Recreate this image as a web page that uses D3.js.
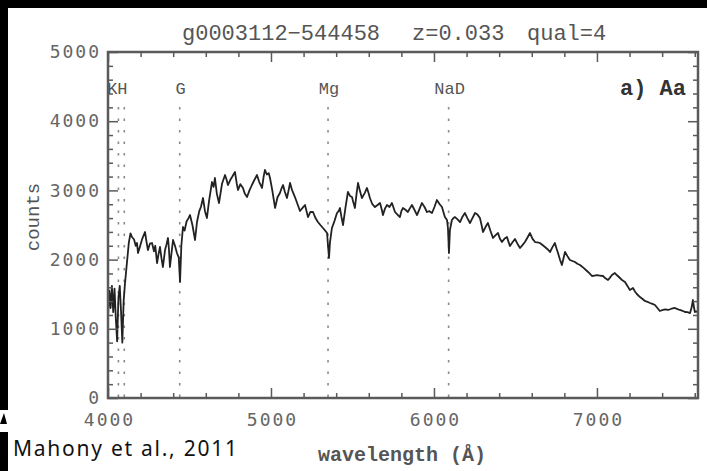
<!DOCTYPE html>
<html>
<head>
<meta charset="utf-8">
<script src="https://cdn.jsdelivr.net/npm/d3@7"></script>
<style>
  html, body { margin: 0; padding: 0; background: #fff; }
  svg { display: block; }
</style>
</head>
<body>
<svg id="chart" width="707" height="471"></svg>
<script>
// Spectrum of g0003112-544458 (z = 0.033): wavelength in Angstrom and counts
const wavelength = [
  4000,4008,4016,4024,4032,4040,4048,4056,4064,4072,4080,4088,4096,4104,4112,4120,4128,4138,
  4147,4160,4170,4178,4184,4195,4210,4227,4236,4245,4257,4270,4282,4290,4301,4310,4319,4328,
  4337,4350,4359,4368,4374,4380,4390,4399,4411,4423,4434,4442,4450,4460,4470,4482,4494,4503,
  4518,4534,4546,4560,4570,4583,4595,4607,4620,4638,4648,4656,4668,4681,4700,4718,4728,4736,
  4750,4763,4779,4790,4798,4812,4828,4840,4853,4868,4883,4898,4914,4928,4945,4955,4963,4975,
  4986,4994,5008,5025,5040,5055,5065,5074,5085,5098,5108,5117,5130,5147,5163,5178,5195,5209,
  5218,5227,5242,5258,5273,5288,5303,5319,5332,5344,5350,5356,5362,5374,5390,5405,5415,5423,
  5432,5442,5457,5472,5485,5497,5506,5515,5525,5534,5546,5558,5575,5589,5600,5607,5622,5638,
  5654,5669,5680,5687,5700,5712,5727,5742,5752,5761,5776,5791,5800,5810,5825,5840,5852,5865,
  5880,5896,5911,5926,5942,5957,5972,5988,6003,6018,6035,6049,6067,6080,6086,6092,6098,6110,
  6120,6129,6145,6160,6175,6190,6205,6221,6236,6252,6267,6282,6292,6301,6316,6331,6346,6362,
  6377,6393,6405,6417,6432,6448,6457,6466,6482,6497,6512,6528,6543,6558,6574,6589,6605,6620,
  6635,6650,6666,6681,6697,6712,6727,6742,6752,6761,6773,6785,6795,6804,6819,6834,6850,6865,
  6880,6896,6918,6939,6955,6969,6985,7000,7018,7037,7052,7068,7080,7092,7110,7125,7141,7156,
  7172,7187,7202,7212,7221,7233,7245,7264,7280,7294,7310,7325,7340,7356,7371,7386,7405,7420,
  7436,7458,7479,7494,7509,7525,7540,7555,7571,7580,7589,7596,7601,7615
];
const counts = [
  1180,1550,1300,1620,1240,1580,1150,820,1450,1620,1250,800,1400,1650,1850,2050,2250,2380,
  2326,2290,2200,2240,2095,2180,2300,2399,2260,2139,2230,2240,2120,2200,1950,2080,2182,2020,
  1893,2139,2220,2312,2150,1893,2100,2283,2200,2095,2030,1676,2200,2471,2420,2550,2600,2644,
  2500,2283,2543,2700,2760,2890,2700,2601,2850,3121,3050,3179,2950,2818,3100,3222,3150,3078,
  3150,3200,3266,3100,3006,3090,3035,2950,2904,3000,3078,3150,3222,3120,3035,3200,3295,3230,
  3250,3179,3000,2746,2900,2962,3030,3078,2980,2890,3000,3107,3000,2904,2800,2702,2750,2789,
  2700,2615,2690,2688,2600,2543,2500,2457,2420,2384,2200,2023,2250,2457,2560,2673,2700,2746,
  2620,2500,2750,2977,2920,2904,2820,2746,2950,3107,2990,2890,2960,3035,2950,2890,2800,2760,
  2790,2818,2720,2644,2740,2789,2760,2818,2750,2688,2650,2615,2700,2746,2720,2688,2740,2789,
  2720,2644,2730,2818,2760,2688,2700,2673,2760,2861,2800,2760,2615,2572,2450,2095,2428,2572,
  2600,2615,2580,2543,2620,2673,2600,2529,2600,2673,2650,2601,2500,2399,2470,2529,2420,2312,
  2350,2384,2300,2254,2300,2326,2260,2196,2250,2298,2230,2168,2210,2254,2320,2384,2300,2254,
  2250,2240,2210,2182,2150,2110,2180,2240,2160,2095,2000,1922,2020,2110,2050,1994,1980,1965,
  1940,1922,1880,1835,1800,1763,1770,1777,1770,1763,1730,1705,1740,1777,1806,1770,1734,1700,
  1676,1620,1561,1575,1590,1540,1503,1459,1430,1402,1390,1373,1360,1344,1300,1257,1272,1280,
  1272,1290,1301,1285,1272,1260,1243,1240,1228,1300,1416,1300,1243,1250
];

// Absorption features marked on the spectrum (redshifted positions)
const lineNames = ["K", "H", "G", "Mg", "NaD"];
const lineWavelengths = [4064, 4100, 4440, 5350, 6090];

// Axis ticks
const xTickValues = [4000, 5000, 6000, 7000];
const yTickValues = [0, 1000, 2000, 3000, 4000, 5000];

const svg = d3.select("#chart");
const W = 707, H = 471;
const plotL = 108, plotR = 698, plotT = 52, plotB = 398;

const x = d3.scaleLinear().domain([4000, 7620]).range([plotL, plotR]);
const y = d3.scaleLinear().domain([0, 5000]).range([plotB, plotT]);

const axisColor = "#5a5a5a";
const labelFont = "'DejaVu Sans Mono', monospace";
const monoFont = "'Liberation Mono', 'Courier New', monospace";

// Frame clip
svg.append("defs").append("clipPath").attr("id", "plotArea")
  .append("rect").attr("x", plotL).attr("y", plotT)
  .attr("width", plotR - plotL).attr("height", plotB - plotT);

// Dotted marker lines
const markers = svg.append("g");
lineWavelengths.forEach((w) => {
  markers.append("line")
    .attr("x1", x(w)).attr("x2", x(w))
    .attr("y1", 107).attr("y2", plotB)
    .attr("stroke", "#8a8a8a").attr("stroke-width", 1.6)
    .attr("stroke-dasharray", "2.5 9");
});

// Marker labels (K and H share one label)
const markerLabels = [
  { text: lineNames[0] + lineNames[1], w: (lineWavelengths[0] + lineWavelengths[1]) / 2, dx: -4 },
  { text: lineNames[2], w: lineWavelengths[2], dx: 1 },
  { text: lineNames[3], w: lineWavelengths[3], dx: 1 },
  { text: lineNames[4], w: lineWavelengths[4], dx: 1 }
];
svg.append("g").selectAll("text").data(markerLabels).join("text")
  .attr("x", d => x(d.w) + d.dx)
  .attr("y", 94)
  .attr("text-anchor", "middle")
  .attr("font-family", monoFont)
  .attr("font-size", 17)
  .attr("fill", "#555")
  .text(d => d.text);

// Spectrum line
const pts = wavelength.map((w, i) => [w, counts[i]]);
svg.append("path")
  .datum(pts)
  .attr("clip-path", "url(#plotArea)")
  .attr("fill", "none")
  .attr("stroke", "#222")
  .attr("stroke-width", 1.8)
  .attr("stroke-linejoin", "round")
  .attr("d", d3.line().x(d => x(d[0])).y(d => y(d[1])));

// Ticks (inward, all four sides)
const xMinor = d3.range(4000, 7601, 200).filter(v => v % 1000 !== 0);
const yMinor = d3.range(0, 5001, 200).filter(v => v % 1000 !== 0);

function tickGroup(axis, tx, ty) {
  const g = svg.append("g").attr("transform", `translate(${tx},${ty})`).call(axis);
  g.select(".domain").remove();
  g.selectAll("line").attr("stroke", axisColor).attr("stroke-width", 1.5);
  return g;
}
tickGroup(d3.axisBottom(x).tickValues(xTickValues).tickSize(-10).tickFormat(""), 0, plotB);
tickGroup(d3.axisBottom(x).tickValues(xMinor).tickSize(-5).tickFormat(""), 0, plotB);
tickGroup(d3.axisTop(x).tickValues(xTickValues).tickSize(-10).tickFormat(""), 0, plotT);
tickGroup(d3.axisTop(x).tickValues(xMinor).tickSize(-5).tickFormat(""), 0, plotT);
tickGroup(d3.axisLeft(y).tickValues(yTickValues).tickSize(-10).tickFormat(""), plotL, 0);
tickGroup(d3.axisLeft(y).tickValues(yMinor).tickSize(-5).tickFormat(""), plotL, 0);
tickGroup(d3.axisRight(y).tickValues(yTickValues).tickSize(-10).tickFormat(""), plotR, 0);
tickGroup(d3.axisRight(y).tickValues(yMinor).tickSize(-5).tickFormat(""), plotR, 0);

// Frame
svg.append("rect")
  .attr("x", plotL).attr("y", plotT)
  .attr("width", plotR - plotL).attr("height", plotB - plotT)
  .attr("fill", "none").attr("stroke", axisColor).attr("stroke-width", 2.5);

// Tick labels
const xLab = svg.append("g").attr("transform", `translate(0,${plotB})`)
  .call(d3.axisBottom(x).tickValues(xTickValues).tickSize(0).tickPadding(15).tickFormat(d3.format("d")));
xLab.select(".domain").remove();
xLab.selectAll("text").attr("font-family", labelFont).attr("font-size", 18)
  .attr("letter-spacing", 2).attr("dx", 1).attr("fill", "#666");

const yLab = svg.append("g").attr("transform", `translate(${plotL},0)`)
  .call(d3.axisLeft(y).tickValues(yTickValues).tickSize(0).tickPadding(9).tickFormat(d3.format("d")));
yLab.select(".domain").remove();
yLab.selectAll("text").attr("font-family", labelFont).attr("font-size", 18)
  .attr("letter-spacing", 2).attr("dx", 2).attr("fill", "#666");

// Title pieces
const titleParts = [
  { text: "g0003112\u2212544458", x: 182 },
  { text: "z=0.033", x: 412 },
  { text: "qual=4", x: 527 }
];
svg.append("g").selectAll("text").data(titleParts).join("text")
  .attr("x", d => d.x).attr("y", 40)
  .attr("font-family", monoFont).attr("font-size", 22).attr("fill", "#555")
  .text(d => d.text);

// Panel tag
svg.append("text")
  .attr("x", 686).attr("y", 95).attr("text-anchor", "end")
  .attr("font-family", monoFont).attr("font-size", 22).attr("font-weight", "bold")
  .attr("fill", "#333")
  .text("a) Aa");

// Axis titles
svg.append("text")
  .attr("x", 402).attr("y", 461).attr("text-anchor", "middle")
  .attr("font-family", monoFont).attr("font-size", 20).attr("font-weight", "bold")
  .attr("fill", "#555")
  .text("wavelength (\u00C5)");

svg.append("text")
  .attr("transform", "translate(39,217) rotate(-90)")
  .attr("text-anchor", "middle")
  .attr("font-family", monoFont).attr("font-size", 19)
  .attr("fill", "#555")
  .text("counts");

// Citation
svg.append("text")
  .attr("x", 13).attr("y", 456)
  .attr("font-family", "'Noto Sans', 'Open Sans', sans-serif").attr("font-size", 21)
  .attr("textLength", 224).attr("lengthAdjust", "spacing")
  .attr("fill", "#111")
  .text("Mahony et al., 2011");

// Dark slide border pieces
const border = svg.append("g").attr("fill", "#000");
border.append("rect").attr("x", 0).attr("y", 0).attr("width", W).attr("height", 8);
border.append("rect").attr("x", 0).attr("y", 0).attr("width", 8).attr("height", 410);
border.append("path").attr("d", "M0,424 L4,413 L7,424 Z");
border.append("rect").attr("x", 0).attr("y", 432).attr("width", 8).attr("height", 39);
</script>
</body>
</html>
